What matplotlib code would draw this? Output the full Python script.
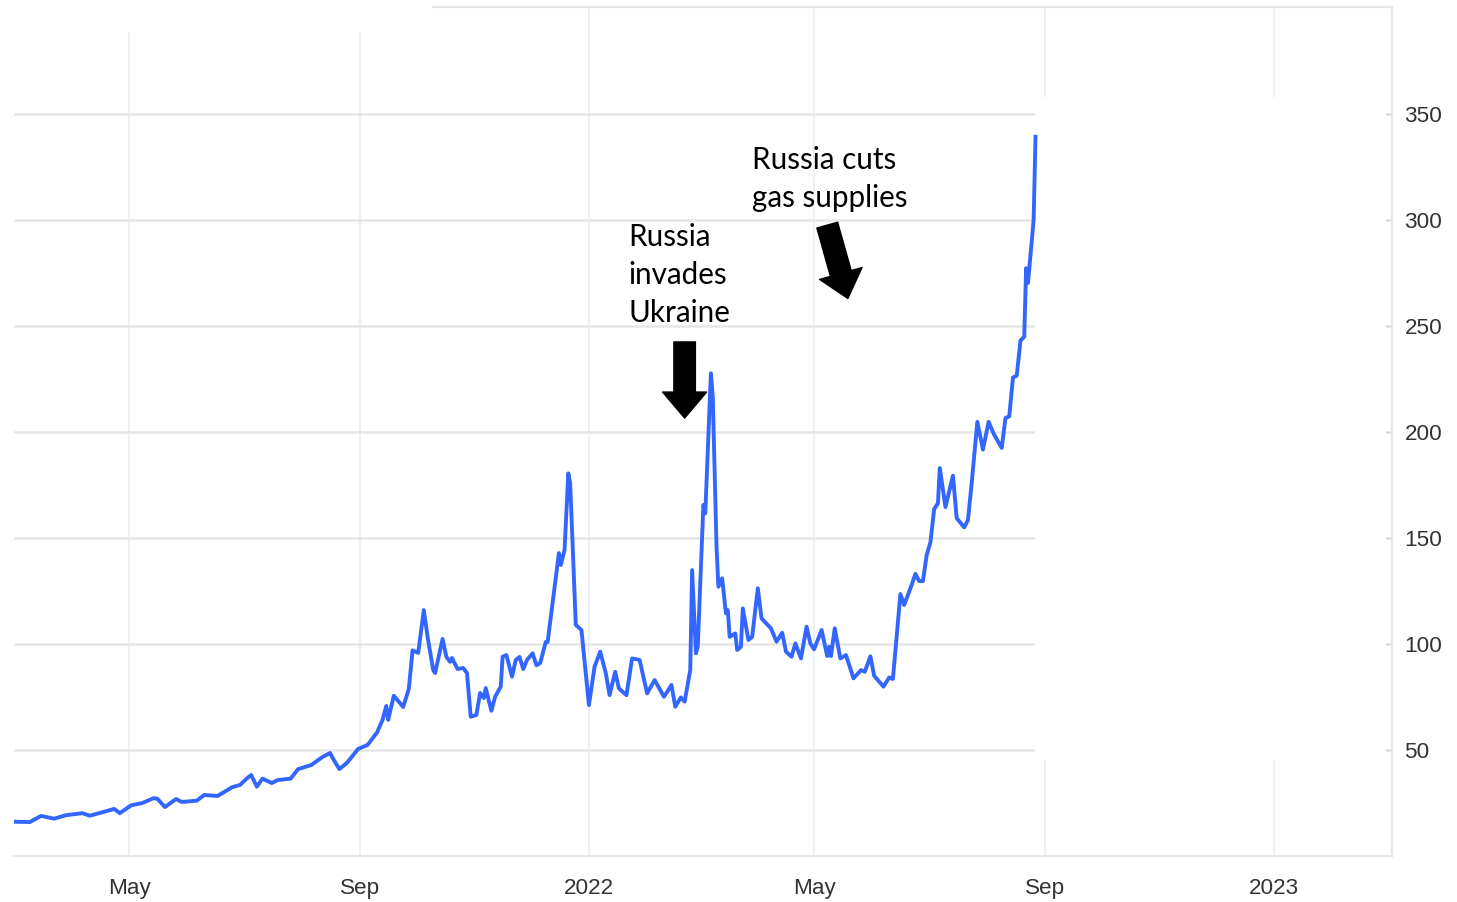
import matplotlib
matplotlib.use("Agg")
import matplotlib.pyplot as plt
import matplotlib.dates as mdates
import numpy as np
import pandas as pd
from matplotlib.patches import Rectangle

# ---- data ----
dates = [
    "2021-02-28", "2021-03-09", "2021-03-15", "2021-03-22", "2021-03-28", "2021-04-06",
    "2021-04-10", "2021-04-21", "2021-04-23", "2021-04-26", "2021-05-02", "2021-05-08",
    "2021-05-14", "2021-05-16", "2021-05-20", "2021-05-23", "2021-05-26", "2021-05-29",
    "2021-06-06", "2021-06-10", "2021-06-17", "2021-06-25", "2021-06-29", "2021-07-03",
    "2021-07-05", "2021-07-08", "2021-07-11", "2021-07-16", "2021-07-19", "2021-07-26",
    "2021-07-30", "2021-08-06", "2021-08-12", "2021-08-16", "2021-08-18", "2021-08-21",
    "2021-08-25", "2021-08-31", "2021-09-05", "2021-09-10", "2021-09-13", "2021-09-15",
    "2021-09-16", "2021-09-19", "2021-09-24", "2021-09-27", "2021-09-29", "2021-10-02",
    "2021-10-05", "2021-10-07", "2021-10-10", "2021-10-11", "2021-10-15", "2021-10-17",
    "2021-10-19", "2021-10-20", "2021-10-23", "2021-10-26", "2021-10-28", "2021-10-30",
    "2021-11-02", "2021-11-04", "2021-11-06", "2021-11-07", "2021-11-10", "2021-11-12",
    "2021-11-15", "2021-11-16", "2021-11-18", "2021-11-21", "2021-11-23", "2021-11-25",
    "2021-11-27", "2021-11-29", "2021-12-02", "2021-12-04", "2021-12-06", "2021-12-09",
    "2021-12-10", "2021-12-14", "2021-12-16", "2021-12-17", "2021-12-19", "2021-12-21",
    "2021-12-22", "2021-12-25", "2021-12-28", "2022-01-01", "2022-01-04", "2022-01-07",
    "2022-01-10", "2022-01-12", "2022-01-15", "2022-01-17", "2022-01-21", "2022-01-24",
    "2022-01-28", "2022-02-01", "2022-02-05", "2022-02-10", "2022-02-14", "2022-02-16",
    "2022-02-19", "2022-02-21", "2022-02-24", "2022-02-25", "2022-02-27", "2022-02-28",
    "2022-03-03", "2022-03-04", "2022-03-07", "2022-03-08", "2022-03-10", "2022-03-11",
    "2022-03-13", "2022-03-15", "2022-03-16", "2022-03-17", "2022-03-20", "2022-03-21",
    "2022-03-23", "2022-03-24", "2022-03-27", "2022-03-29", "2022-04-01", "2022-04-03",
    "2022-04-08", "2022-04-11", "2022-04-14", "2022-04-16", "2022-04-19", "2022-04-21",
    "2022-04-24", "2022-04-27", "2022-04-29", "2022-05-01", "2022-05-05", "2022-05-08",
    "2022-05-09", "2022-05-10", "2022-05-12", "2022-05-15", "2022-05-18", "2022-05-22",
    "2022-05-26", "2022-05-28", "2022-05-31", "2022-06-02", "2022-06-07", "2022-06-10",
    "2022-06-12", "2022-06-16", "2022-06-18", "2022-06-22", "2022-06-24", "2022-06-26",
    "2022-06-28", "2022-06-30", "2022-07-02", "2022-07-04", "2022-07-06", "2022-07-07",
    "2022-07-10", "2022-07-14", "2022-07-16", "2022-07-20", "2022-07-22", "2022-07-24",
    "2022-07-27", "2022-07-30", "2022-08-02", "2022-08-05", "2022-08-09", "2022-08-11",
    "2022-08-13", "2022-08-15", "2022-08-17", "2022-08-19", "2022-08-21", "2022-08-22",
    "2022-08-23", "2022-08-26", "2022-08-27",
]
values = [
    16.2, 16.0, 18.9, 17.6, 19.2, 20.2,
    19.0, 21.7, 22.2, 20.2, 23.9, 25.0,
    27.3, 27.0, 23.1, 25.0, 26.9, 25.5,
    26.1, 28.8, 28.3, 32.5, 33.5, 36.8,
    38.2, 32.7, 36.5, 34.4, 35.8, 36.5,
    41.0, 42.9, 46.7, 48.6, 45.3, 41.0,
    43.9, 50.5, 52.4, 58.2, 64.2, 70.8,
    64.2, 75.6, 70.3, 78.8, 97.0, 95.8,
    116.0, 103.4, 87.7, 86.3, 102.4, 94.0,
    91.6, 93.4, 88.2, 88.7, 86.3, 65.7,
    66.5, 76.9, 74.5, 79.2, 68.5, 75.1,
    79.9, 94.0, 94.8, 84.6, 92.5, 93.9,
    88.2, 92.5, 95.6, 90.0, 91.0, 101.0,
    101.0, 128.8, 142.9, 137.3, 144.3, 180.5,
    175.8, 109.0, 106.6, 71.2, 89.3, 96.4,
    86.2, 75.9, 86.9, 79.0, 75.9, 93.2,
    92.5, 76.7, 83.0, 75.1, 80.7, 70.4,
    74.8, 72.8, 87.7, 134.9, 95.6, 98.7,
    165.6, 161.6, 227.7, 216.6, 145.9, 127.0,
    131.0, 114.5, 116.0, 103.4, 105.0, 97.2,
    98.7, 116.8, 101.9, 103.4, 126.3, 112.1,
    107.4, 101.1, 105.3, 96.4, 94.0, 100.3,
    93.2, 108.2, 100.3, 97.5, 106.6, 94.3,
    98.7, 94.3, 107.4, 93.2, 94.8, 83.8,
    87.7, 86.9, 94.2, 85.0, 79.9, 84.2,
    83.5, 123.6, 118.4, 127.9, 133.1, 129.7,
    129.7, 141.9, 148.0, 163.7, 166.4, 183.0,
    164.6, 179.4, 159.4, 155.0, 158.5, 176.0,
    204.8, 191.7, 204.8, 198.7, 192.5, 206.6,
    207.4, 225.7, 226.6, 243.2, 244.9, 277.3,
    270.3, 300.0, 339.3,
]

y_ticks = [50, 100, 150, 200, 250, 300, 350]
x_tick_dates = ["2021-05-01", "2021-09-01", "2022-01-01", "2022-05-01", "2022-09-01", "2023-01-01"]
x_tick_labels = ["May", "Sep", "2022", "May", "Sep", "2023"]

annotations = [
    # text, text anchor (date, value), arrow tail (date, value), arrow tip (date, value)
    ("Russia\ninvades\nUkraine", ("2022-01-22", 298.5), ("2022-02-21", 242.5), ("2022-02-21", 206.6)),
    ("Russia cuts\ngas supplies", ("2022-03-29", 335), ("2022-05-08", 297.6), ("2022-05-19", 263.0)),
]

x_start = "2021-02-28 14:00"
x_end = "2023-03-05"

# ---- figure ----
W, H = 1457, 902
fig = plt.figure(figsize=(W / 100, H / 100), dpi=100)
ax = fig.add_axes([14 / W, 46 / H, 1378 / W, 849 / H])

x = pd.to_datetime(dates)
ax.plot(x, values, color="#3366ff", lw=2.8, solid_joinstyle="round", zorder=3)

ax.set_xlim(pd.Timestamp(x_start), pd.Timestamp(x_end))
ax.set_ylim(0, 400.5)

ax.set_axisbelow(True)
ax.yaxis.tick_right()
ax.set_yticks(y_ticks)
ax.set_yticklabels([str(v) for v in y_ticks])
ax.set_xticks(pd.to_datetime(x_tick_dates))
ax.set_xticklabels(x_tick_labels)

for lab in ax.get_xticklabels() + ax.get_yticklabels():
    lab.set_fontfamily("Liberation Sans")
    lab.set_fontsize(16.2)
    lab.set_color("#333333")

ax.tick_params(axis="x", length=0, pad=16)
ax.tick_params(axis="y", direction="in", length=4, width=1, color="#d9d9d9", pad=9)

ax.grid(axis="y", color="#e6e6e6", lw=1.8)
ax.grid(axis="x", color="#edf1f6", lw=1.5)

ax.spines["left"].set_visible(False)
for side in ["top", "right", "bottom"]:
    ax.spines[side].set_color("#e6e6e6")
    ax.spines[side].set_linewidth(1.6)

# white masks present in the reference image
ax.add_patch(Rectangle((0.741, 0.113), 0.2546, 0.781, transform=ax.transAxes,
                       facecolor="white", edgecolor="none", zorder=2.6))
ax.add_patch(Rectangle((-0.01, 0.9706), 0.313, 0.04, transform=ax.transAxes,
                       facecolor="white", edgecolor="none", zorder=2.6, clip_on=False))

# annotations
for text, (td, tv), (ad, av), (bd, bv) in annotations:
    ax.text(mdates.date2num(pd.Timestamp(td)), tv, text, ha="left", va="top",
            fontsize=21.3, family="Lato", color="black", linespacing=1.42, zorder=4)
    ax.annotate("", xy=(mdates.date2num(pd.Timestamp(bd)), bv),
                xytext=(mdates.date2num(pd.Timestamp(ad)), av),
                arrowprops=dict(arrowstyle="simple,head_width=3.17,head_length=1.87,tail_width=1.55",
                                color="black", shrinkA=0, shrinkB=0, mutation_scale=10),
                zorder=4)

fig.savefig("out.png", dpi=100, facecolor="white")
